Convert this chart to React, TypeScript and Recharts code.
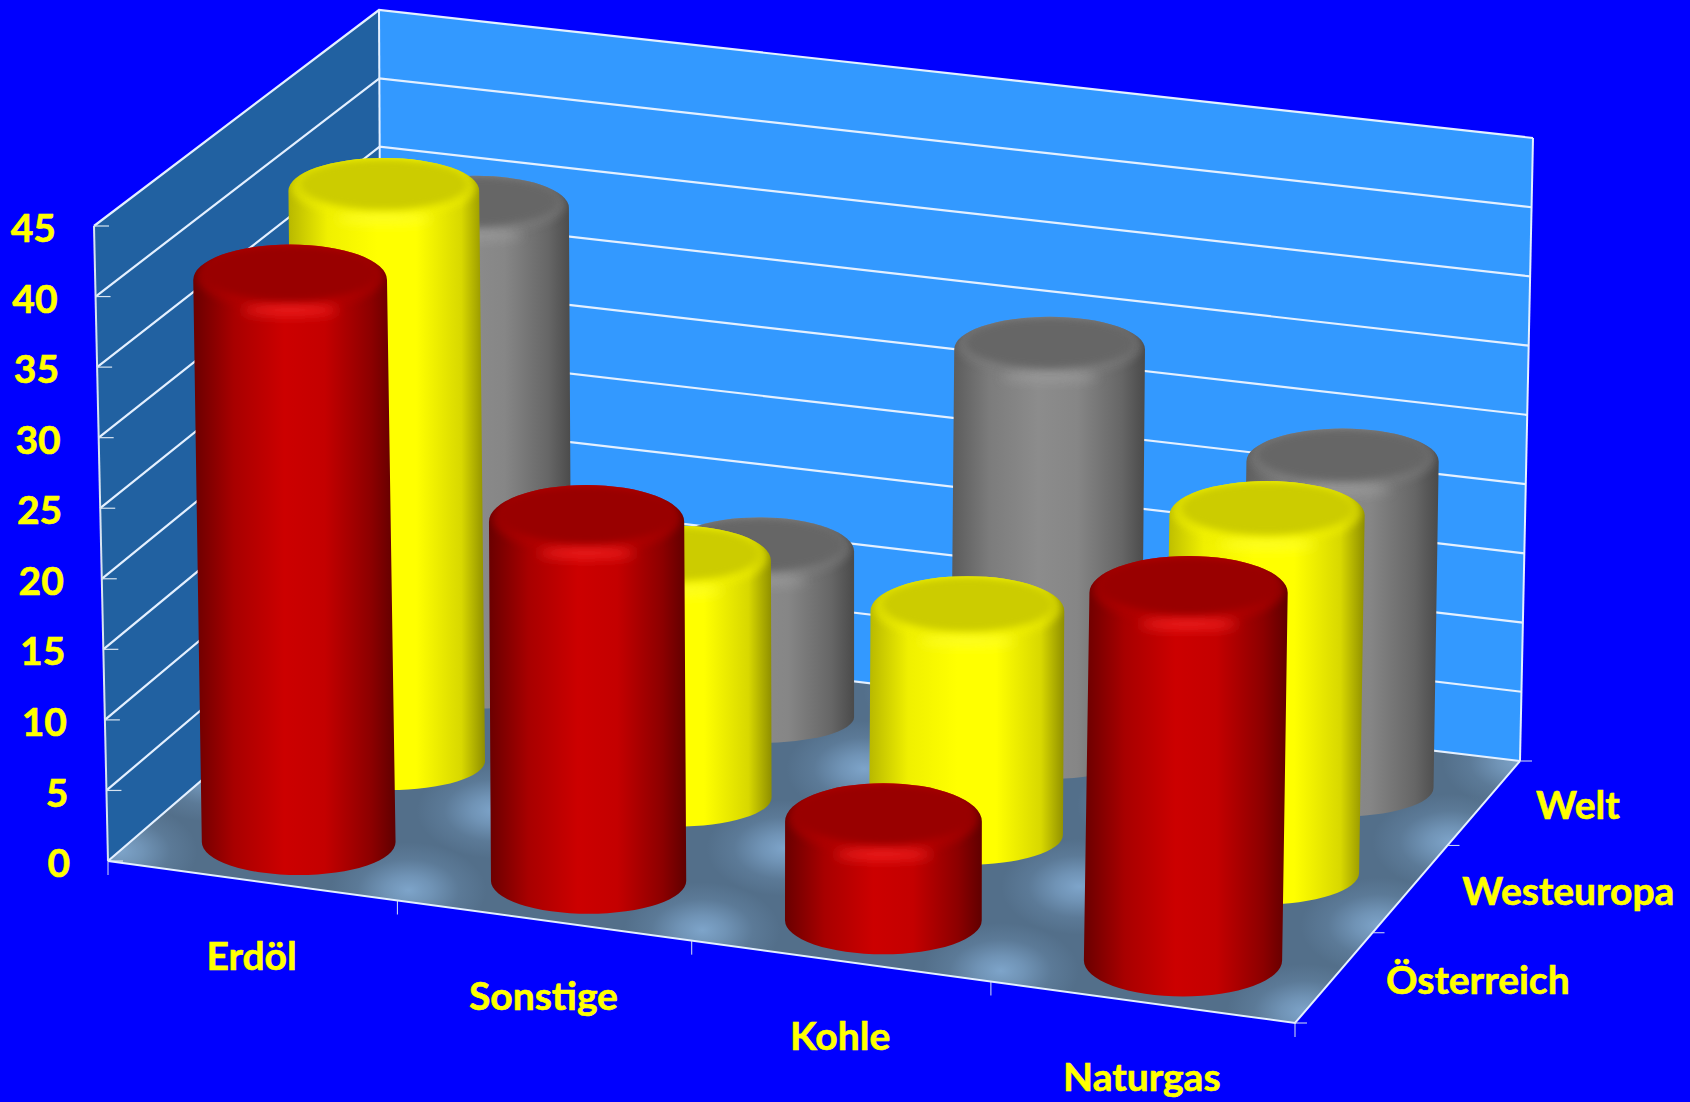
import { Bar, BarChart, Customized, XAxis, YAxis } from 'recharts';

const categories = ['Erdöl', 'Sonstige', 'Kohle', 'Naturgas'];
const oesterreich = [40, 25.5, 7, 26];
const westeuropa = [41, 17, 16, 25.5];
const welt = [34.5, 12, 29.1, 23.5];
const yTicks = [0, 5, 10, 15, 20, 25, 30, 35, 40, 45];
const depthLabels = ['Österreich', 'Westeuropa', 'Welt'];

const rows = categories.map((name, i) => ({
  name,
  oesterreich: oesterreich[i],
  westeuropa: westeuropa[i],
  welt: welt[i],
}));

const W = 1690;
const H = 1102;
const AXIS_SIZE = 1;
const PLOT_W = W - AXIS_SIZE;
const PLOT_H = H - AXIS_SIZE;
const YELLOW = '#FFFF00';
const labelStyle = {
  fill: YELLOW,
  stroke: YELLOW,
  strokeWidth: 0.6,
  fontFamily: 'Lato, sans-serif',
  fontWeight: 700,
  fontSize: 39,
};

// box corners as seen in the picture: front/back, left/right, bottom/top
const FLB = [108, 861];
const FRB = [1295, 1023];
const BLB = [382, 625];
const BRB = [1520, 761];
const FLT = [94, 226];
const FRT = [1309, 383];
const BLT = [379, 10];
const BRT = [1533, 138];

const mix = (a: number[], b: number[], t: number) => [
  a[0] + (b[0] - a[0]) * t,
  a[1] + (b[1] - a[1]) * t,
];

// u along categories, v into depth, w up the value axis
const project = (u0: number, v0: number, w: number) => {
  // the slots get a bit wider towards the viewer's right and the front
  const u = u0 - 0.033 * u0 * (1 - u0);
  const v = v0 + 0.05 * v0 * (1 - v0);
  const bottom = mix(mix(FLB, FRB, u), mix(BLB, BRB, u), v);
  const top = mix(mix(FLT, FRT, u), mix(BLT, BRT, u), v);
  return mix(bottom, top, w);
};

const poly = (pts: number[][]) => pts.map(p => p.join(',')).join(' ');

const palettes = [
  { id: 'red', stops: ['#6a0000', '#a80000', '#cc0000', '#c40000', '#8c0000', '#600000'], cap: '#990000', rim: '#b00000', glow: '#ff2a2a' },
  { id: 'yel', stops: ['#b8b800', '#f0f000', '#ffff00', '#ffff00', '#d8d800', '#8f8f00'], cap: '#cccc00', rim: '#eeee00', glow: '#ffff30' },
  { id: 'gry', stops: ['#5a5a5a', '#7c7c7c', '#8c8c8c', '#868686', '#666666', '#4a4a4a'], cap: '#666666', rim: '#7a7a7a', glow: '#a0a0a0' },
];
const stopAt = [0, 0.2, 0.45, 0.65, 0.88, 1];

function Scene() {
  const spots: number[][] = [];
  [0, 0.25, 0.5, 0.75, 1].forEach(u =>
    [0.04, 0.36, 0.68, 1].forEach(v => spots.push(project(u, v, 0))),
  );
  return (
    <g>
      <defs>
        {palettes.map(p => (
          <linearGradient key={p.id} id={`body-${p.id}`} x1='0' x2='1' y1='0' y2='0'>
            {p.stops.map((c, i) => (
              <stop key={i} offset={stopAt[i]} stopColor={c} />
            ))}
          </linearGradient>
        ))}
        <radialGradient id='floor-spot'>
          <stop offset='0' stopColor='#80a7cd' stopOpacity={0.95} />
          <stop offset='0.3' stopColor='#7fa6cc' stopOpacity={0.66} />
          <stop offset='0.65' stopColor='#7fa6cc' stopOpacity={0.2} />
          <stop offset='1' stopColor='#7fa6cc' stopOpacity={0} />
        </radialGradient>
        <clipPath id='floor-clip'>
          <polygon points={poly([FLB, FRB, BRB, BLB])} />
        </clipPath>
        <filter id='soft' x='-30%' y='-30%' width='160%' height='160%'>
          <feGaussianBlur stdDeviation='3.5' />
        </filter>
        <filter id='softer' x='-50%' y='-80%' width='200%' height='260%'>
          <feGaussianBlur stdDeviation='6' />
        </filter>
      </defs>
      <polygon points={poly([BLB, BRB, BRT, BLT])} fill='#3399FF' />
      <polygon points={poly([FLB, BLB, BLT, FLT])} fill='#2161A1' />
      <polygon points={poly([FLB, FRB, BRB, BLB])} fill='#536F8A' />
      <g clipPath='url(#floor-clip)'>
        {spots.map((s, i) => (
          <ellipse key={i} cx={s[0]} cy={s[1]} rx={78} ry={48} fill='url(#floor-spot)' />
        ))}
      </g>
      {yTicks.map(t => {
        const w = t / 45;
        const a = project(0, 0, w);
        const b = project(0, 1, w);
        const c = project(1, 1, w);
        return (
          <g key={t}>
            <polyline points={poly([a, b, c])} fill='none' stroke='#E4F0FF' strokeWidth={2.2} />
            <line x1={a[0]} y1={a[1]} x2={a[0] + 15} y2={a[1]} stroke='#D8E4F0' strokeWidth={1.2} />
          </g>
        );
      })}
      <line x1={FLB[0]} y1={FLB[1]} x2={FLT[0]} y2={FLT[1]} stroke='#D8E4F0' strokeWidth={2} />
      <line x1={BLB[0]} y1={BLB[1]} x2={BLT[0]} y2={BLT[1]} stroke='#E4F0FF' strokeWidth={2} />
      <line x1={BRB[0]} y1={BRB[1]} x2={BRT[0]} y2={BRT[1]} stroke='#E4F0FF' strokeWidth={2} />
      <polyline points={poly([FLB, FRB, BRB])} fill='none' stroke='#E4F0FF' strokeWidth={2} />
      {[0, 0.25, 0.5, 0.75, 1].map(u => {
        const p = project(u, 0, 0);
        return <line key={u} x1={p[0]} y1={p[1]} x2={p[0]} y2={p[1] + 14} stroke='#D8E4F0' strokeWidth={1} />;
      })}
      {[0, 1 / 3, 2 / 3, 1].map(v => {
        const p = project(1, v, 0);
        return <line key={v} x1={p[0]} y1={p[1]} x2={p[0] + 12} y2={p[1]} stroke='#D8E4F0' strokeWidth={1} />;
      })}
      {depthLabels.map((label, i) => {
        const p = project(1, (i + 0.5) / 3, 0);
        return (
          <text key={label} x={p[0] + 52} y={p[1] + 3} dy='0.35em' {...labelStyle}>
            {label}
          </text>
        );
      })}
    </g>
  );
}

function Cylinder({ x, width, height, index, row }: any) {
  const pal = palettes[row];
  const u = (x + width / 2 - AXIS_SIZE) / PLOT_W;
  const v = (row + 0.5) / 3 - 0.012;
  const w = height / PLOT_H;
  const [bx, by] = project(u, v, 0);
  const [tx, ty] = project(u, v, w);
  const b = [bx + 3.5, by];
  const t = [tx + 3, ty];
  const rx = [98, 96.5, 95][row] + (u - 0.5) * 3;
  const ryB = [33, 29, 26][row] + Math.max(0, u - 0.5) * 8;
  const ryT = [33, 29, 26][row] + 2 + row * 1.5 + 4 * (1 - w);
  const bodyClip = `body-${pal.id}-${index}`;
  const topClip = `top-${pal.id}-${index}`;
  const body = `M${t[0] - rx},${t[1]} L${b[0] - rx},${b[1]} A${rx},${ryB} 0 0 0 ${b[0] + rx},${b[1]} L${t[0] + rx},${t[1]} A${rx},${ryT} 0 0 0 ${t[0] - rx},${t[1]} Z`;
  return (
    <g>
      <path d={body} fill={`url(#body-${pal.id})`} />
      <clipPath id={bodyClip}>
        <path d={body} />
      </clipPath>
      <clipPath id={topClip}>
        <ellipse cx={t[0]} cy={t[1]} rx={rx} ry={ryT} />
      </clipPath>
      <g clipPath={`url(#${bodyClip})`}>
        <ellipse cx={t[0]} cy={t[1] - ryT * 0.1} rx={rx * 0.97} ry={ryT * 0.98} fill={pal.rim} opacity={0.55} filter='url(#soft)' />
        <ellipse cx={t[0]} cy={t[1] + ryT * 0.85} rx={rx * 0.5} ry={5} fill={pal.glow} opacity={0.85} filter='url(#softer)' />
      </g>
      <g clipPath={`url(#${topClip})`}>
        <ellipse cx={t[0]} cy={t[1] - ryT * 0.2} rx={rx * 0.88} ry={ryT * 0.78} fill={pal.cap} filter='url(#soft)' />
      </g>
    </g>
  );
}

function ValueTick({ y, payload }: any) {
  const p = project(0, 0, (PLOT_H - y) / PLOT_H);
  return (
    <text x={p[0] - 38} y={p[1] + 2.5} dy='0.35em' textAnchor='end' {...labelStyle}>
      {payload.value}
    </text>
  );
}

function CategoryTick({ x, payload }: any) {
  const p = project((x - AXIS_SIZE) / PLOT_W, 0, 0);
  return (
    <text x={p[0] - 0.5} y={p[1] + 75.5} dy='0.35em' textAnchor='middle' {...labelStyle}>
      {payload.value}
    </text>
  );
}

export default function App() {
  return (
    <div style={{ position: 'absolute', left: 0, top: 0, width: W, height: H, background: '#0000FF', overflow: 'hidden' }}>
      <BarChart width={W} height={H} data={rows} margin={{ top: 0, right: 0, bottom: 0, left: 0 }} barCategoryGap='20%'>
        <Customized component={<Scene />} />
        <XAxis xAxisId='welt' dataKey='name' hide />
        <XAxis xAxisId='westeuropa' dataKey='name' hide />
        <XAxis
          xAxisId='oesterreich'
          dataKey='name'
          height={AXIS_SIZE}
          axisLine={false}
          tickLine={false}
          interval={0}
          tick={<CategoryTick />}
        />
        <YAxis
          width={AXIS_SIZE}
          domain={[0, 45]}
          ticks={yTicks}
          interval={0}
          axisLine={false}
          tickLine={false}
          tick={<ValueTick />}
        />
        <Bar xAxisId='welt' dataKey='welt' isAnimationActive={false} shape={(p: any) => <Cylinder {...p} row={2} />} />
        <Bar xAxisId='westeuropa' dataKey='westeuropa' isAnimationActive={false} shape={(p: any) => <Cylinder {...p} row={1} />} />
        <Bar xAxisId='oesterreich' dataKey='oesterreich' isAnimationActive={false} shape={(p: any) => <Cylinder {...p} row={0} />} />
      </BarChart>
    </div>
  );
}
